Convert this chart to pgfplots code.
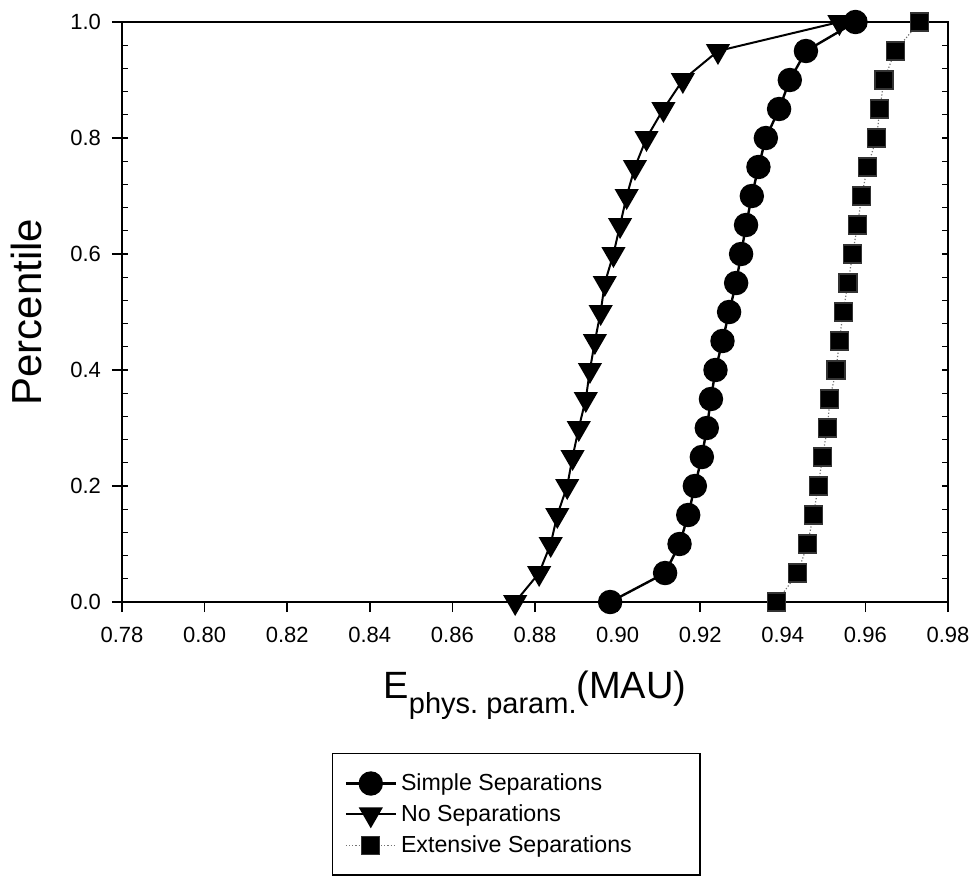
\documentclass[border=0pt]{standalone}
\usepackage{pgfplots}
\pgfplotsset{compat=1.18}
\usepackage{fontspec}
\setmainfont{Liberation Sans}
\begin{document}
\begin{tikzpicture}
\clip (-61pt,-136.5pt) rectangle (426pt,301pt);
\begin{axis}[
  at={(0,0)}, anchor=south west,
  scale only axis, width=413pt, height=290pt,
  xmin=0.78, xmax=0.98, ymin=0, ymax=1,
  clip=false,
  axis line style={line width=0.9pt},
  xtick={0.78,0.80,0.82,0.84,0.86,0.88,0.90,0.92,0.94,0.96,0.98},
  ytick={0,0.2,0.4,0.6,0.8,1.0},
  xtick pos=bottom, ytick pos=left,
  tick align=outside, major tick length=5pt,
  tick style={line width=0.8pt, black},
  /pgf/number format/assume math mode=true,
  xticklabel={\pgfmathprintnumber[fixed,fixed zerofill,precision=2,assume math mode=true]{\tick}},
  yticklabel={\pgfmathprintnumber[fixed,fixed zerofill,precision=1,assume math mode=true]{\tick}},
  xticklabel style={font=\fontsize{11}{13}\selectfont, yshift=-4pt},
  yticklabel style={font=\fontsize{11}{13}\selectfont, xshift=-2pt},
  xlabel={\fontsize{19}{23}\selectfont E\raisebox{-7.5pt}{\fontsize{14.5}{17}\selectfont phys.\ param.}(MAU)},
  ylabel={\fontsize{21}{25}\selectfont Percentile},
  xlabel style={at={(axis description cs:0.5,0)}, anchor=north, yshift=-31pt},
  ylabel style={at={(axis description cs:-0.116,0.5)}, anchor=center},
  legend style={at={(rel axis cs:0.254,-0.26)}, anchor=north west, draw=black, line width=0.8pt,
    font=\fontsize{11.6}{13.5}\selectfont, inner xsep=6pt, inner ysep=8pt, row sep=1.5pt},
  legend cell align=left,
  legend image code/.code={\draw[mark repeat=2,mark phase=2] plot coordinates {(0pt,0pt) (12.5pt,0pt) (25pt,0pt)};},
]
\addplot[black, line width=1.2pt, mark=*, mark size=5.5pt, mark options={solid, fill=black}] coordinates {
(0.8982,0) (0.9115,0.05) (0.9150,0.10) (0.9171,0.15) (0.9187,0.20) (0.9204,0.25) (0.9216,0.30)
(0.9226,0.35) (0.9237,0.40) (0.9254,0.45) (0.9270,0.50) (0.9287,0.55) (0.9299,0.60) (0.9311,0.65)
(0.9325,0.70) (0.9341,0.75) (0.9359,0.80) (0.9391,0.85) (0.9417,0.90) (0.9456,0.95) (0.9576,1.00)};
\addlegendentry{Simple Separations}
\addplot[black, line width=1.0pt, mark=triangle*, mark size=6pt, mark options={solid, fill=black, rotate=180}] coordinates {
(0.8752,0) (0.8810,0.05) (0.8838,0.10) (0.8854,0.15) (0.8878,0.20) (0.8891,0.25) (0.8906,0.30)
(0.8923,0.35) (0.8933,0.40) (0.8945,0.45) (0.8959,0.50) (0.8969,0.55) (0.8990,0.60) (0.9006,0.65)
(0.9022,0.70) (0.9042,0.75) (0.9070,0.80) (0.9111,0.85) (0.9158,0.90) (0.9243,0.95) (0.9537,1.00)};
\addlegendentry{No Separations}
\addplot[black!55, line width=0.6pt, densely dotted, mark=square*, mark size=4.5pt, mark options={solid, draw=black!80, fill=black}] coordinates {
(0.9385,0) (0.9436,0.05) (0.9460,0.10) (0.9474,0.15) (0.9486,0.20) (0.9496,0.25) (0.9508,0.30)
(0.9514,0.35) (0.9529,0.40) (0.9537,0.45) (0.9546,0.50) (0.9558,0.55) (0.9569,0.60) (0.9581,0.65)
(0.9591,0.70) (0.9605,0.75) (0.9627,0.80) (0.9635,0.85) (0.9645,0.90) (0.9672,0.95) (0.9731,1.00)};
\addlegendentry{Extensive Separations\hspace*{26pt}}
\end{axis}
\begin{axis}[
  at={(0,0)}, anchor=south west,
  scale only axis, width=413pt, height=290pt,
  xmin=0.78, xmax=0.98, ymin=0, ymax=1,
  axis line style={draw=none},
  xtick=\empty,
  ytick={0.04,0.08,0.12,0.16,0.2,0.24,0.28,0.32,0.36,0.4,0.44,0.48,0.52,0.56,0.6,0.64,0.68,0.72,0.76,0.8,0.84,0.88,0.92,0.96},
  yticklabels={},
  ytick pos=both, tick align=inside, major tick length=3pt,
  tick style={line width=0.6pt, black},
]
\end{axis}
\end{tikzpicture}
\end{document}
